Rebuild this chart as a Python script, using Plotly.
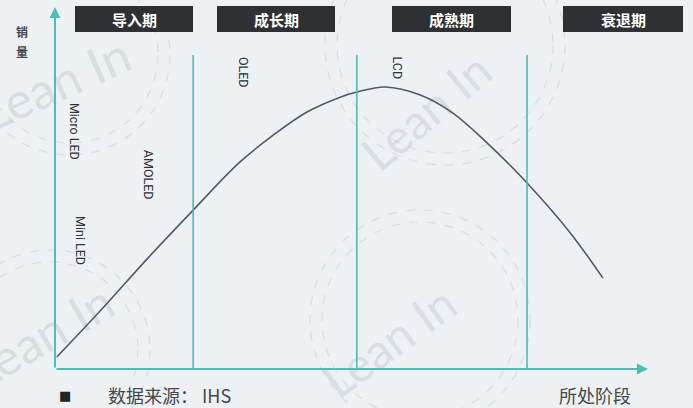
import plotly.graph_objects as go

# ---- data -------------------------------------------------------------
stages = ["导入期", "成长期", "成熟期", "衰退期"]
stage_bounds = [23.3, 50.9, 79.6]          # stage dividers on the x scale (0-100)

# product life-cycle curve (sales vs. stage)
curve_x = [0.3, 7.6, 15.7, 23.3, 31.2, 36.8, 42.5, 48.1, 50.9, 55.7,
           61.6, 67.1, 72.9, 79.6, 86.9, 92.4]
curve_y = [3.3, 16.0, 30.7, 43.9, 57.2, 64.6, 71.0, 75.1, 76.5, 77.9,
           75.7, 70.7, 62.4, 51.4, 37.6, 25.1]

# display technologies placed along the curve
tech_names = ["Micro LED", "Mini LED", "AMOLED", "OLED", "LCD"]
tech_x = [3.2, 4.4, 15.7, 31.7, 57.8]
tech_y = [65.5, 35.6, 53.6, 81.8, 83.1]

# ---- layout geometry ----------------------------------------------------
W, H = 693, 408
L, R, T, B = 55, 45, 7, 39
PW, PH = W - L - R, H - T - B


def px(x):
    return (x - L) / PW


def py(y):
    return (H - B - y) / PH


TEAL = "#4fbdb1"
BG = "#edf1f4"
CJK = "Noto Sans CJK SC"

fig = go.Figure()

fig.add_trace(go.Scatter(
    x=curve_x, y=curve_y, mode="lines",
    line=dict(color="#555a5e", width=1.6, shape="spline", smoothing=1.0),
    hoverinfo="skip", showlegend=False,
))

shapes = []
annotations = []

# faint "Lean In" watermark: dashed rings plus rotated wordmark
for cx, cy, r in [(70, 55, 100), (50, 350, 100), (445, 45, 120), (420, 320, 110)]:
    for rr in (r, r - 12):
        shapes.append(dict(
            type="circle", xref="paper", yref="paper", layer="below",
            x0=px(cx - rr), x1=px(cx + rr), y0=py(cy + rr), y1=py(cy - rr),
            line=dict(color="rgba(175,180,185,0.32)", width=1.2, dash="dash"),
        ))
for wx, wy, ang, sz in [(55, 82, -24, 50), (425, 110, -40, 48),
                        (40, 335, -30, 50), (388, 340, -36, 48)]:
    shapes.append(dict(
        type="rect", xref="paper", yref="paper", layer="below",
        x0=px(wx - 1), x1=px(wx + 1), y0=py(wy + 1), y1=py(wy - 1),
        line=dict(width=0), fillcolor="rgba(0,0,0,0)",
        label=dict(text="Lean In", textangle=ang, textposition="middle center",
                   font=dict(family="Lato", size=sz, color="rgba(170,175,180,0.30)")),
    ))

# stage dividers
for b in stage_bounds:
    shapes.append(dict(
        type="line", xref="x", yref="paper", x0=b, x1=b, y0=0, y1=py(55),
        line=dict(color=TEAL, width=1.6),
    ))

# stage header boxes
box_px = [(75, 193), (217, 335), (392, 511), (563, 683)]
for name, (a, b) in zip(stages, box_px):
    shapes.append(dict(
        type="rect", xref="paper", yref="paper",
        x0=px(a), x1=px(b), y0=py(32), y1=py(6),
        fillcolor="#2e3034", line=dict(width=0),
    ))
    annotations.append(dict(
        x=px((a + b) / 2), y=py(19.5), xref="paper", yref="paper",
        xanchor="center", yanchor="middle",
        showarrow=False, text="<b>%s</b>" % name,
        font=dict(family=CJK, size=15, color="#ffffff"),
    ))

# axes drawn as arrows
annotations.append(dict(
    x=0, y=1, xref="paper", yref="paper", text="", showarrow=True,
    ax=0, ay=PH, arrowhead=2, arrowsize=1.1, arrowwidth=2, arrowcolor=TEAL,
))
annotations.append(dict(
    x=1, y=0, xref="paper", yref="paper", text="", showarrow=True,
    ax=-PW, ay=0, arrowhead=2, arrowsize=1.1, arrowwidth=2, arrowcolor=TEAL,
))

# technology labels (vertical)
for name, x, y in zip(tech_names, tech_x, tech_y):
    annotations.append(dict(
        x=x, y=y, xref="x", yref="y", showarrow=False, text=name,
        textangle=90, font=dict(family="Roboto", size=12.5, color="#2f3235"),
    ))

# y-axis title, one character per line
for ch, yy in zip("销量", (32, 51)):
    annotations.append(dict(
        x=px(22), y=py(yy), xref="paper", yref="paper", showarrow=False,
        xanchor="center", yanchor="middle",
        text="<b>%s</b>" % ch, font=dict(family=CJK, size=12, color="#45484b"),
    ))

# x-axis title and source note
annotations.append(dict(
    x=px(595), y=py(395), xref="paper", yref="paper", showarrow=False,
    xanchor="center", yanchor="middle",
    text="所处阶段", font=dict(family=CJK, size=18, color="#45484b"),
))
annotations.append(dict(
    x=px(65), y=py(395), xref="paper", yref="paper", showarrow=False,
    xanchor="center", yanchor="middle",
    text="■", font=dict(family="DejaVu Sans", size=13, color="#222426"),
))
annotations.append(dict(
    x=px(106), y=py(395), xref="paper", yref="paper", showarrow=False,
    xanchor="left", yanchor="middle", text="数据来源： IHS",
    font=dict(family=CJK, size=18, color="#45484b"),
))

fig.update_layout(
    width=W, height=H,
    margin=dict(l=L, r=R, t=T, b=B),
    paper_bgcolor=BG, plot_bgcolor=BG,
    xaxis=dict(range=[0, 100], visible=False, fixedrange=True),
    yaxis=dict(range=[0, 100], visible=False, fixedrange=True),
    shapes=shapes, annotations=annotations,
    showlegend=False,
)

fig.write_html("out.html")
